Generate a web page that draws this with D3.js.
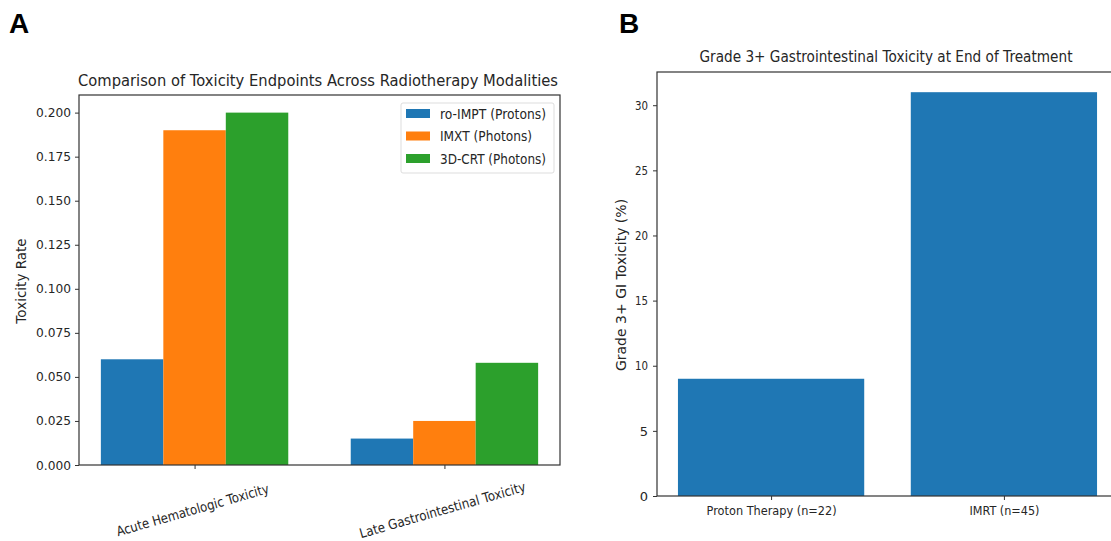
<!DOCTYPE html>
<html>
<head>
<meta charset="utf-8">
<script src="https://cdn.jsdelivr.net/npm/d3@7"></script>
<style>
  body { margin: 0; background: #fff; }
  svg text { font-family: "DejaVu Sans", sans-serif; fill: #262626; }
</style>
</head>
<body>
<div id="chart"></div>
<script>
// Panel A data
var categoriesA = ['Acute Hematologic Toxicity', 'Late Gastrointestinal Toxicity'];
var seriesNames = ['ro-IMPT (Protons)', 'IMXT (Photons)', '3D-CRT (Photons)'];
var protonValues = [0.06, 0.015];
var imxtValues = [0.19, 0.025];
var crtValues = [0.20, 0.058];
var ticksA = [0, 0.025, 0.05, 0.075, 0.1, 0.125, 0.15, 0.175, 0.2];

// Panel B data
var categoriesB = ['Proton Therapy (n=22)', 'IMRT (n=45)'];
var valuesB = [9, 31];
var ticksB = [0, 5, 10, 15, 20, 25, 30];

var colors = ['#1f77b4', '#ff7f0e', '#2ca02c'];

var svg = d3.select('#chart').append('svg')
  .attr('width', 1111)
  .attr('height', 541);

// squeeze a text to a given width (the picture is narrower than it is tall)
function squeeze(sel, w) {
  return sel.attr('textLength', w).attr('lengthAdjust', 'spacingAndGlyphs');
}

// ---------- Panel A ----------
var xA = d3.scaleLinear().domain([-0.4625, 1.4625]).range([79, 560]);
var yA = d3.scaleLinear().domain([0, 0.21]).range([465, 95]);
var barW = 0.25;

var seriesA = [protonValues, imxtValues, crtValues];
seriesA.forEach(function (vals, s) {
  svg.append('g').selectAll('rect')
    .data(vals)
    .enter()
    .append('rect')
    .attr('x', function (d, i) { return xA(i + (s - 1) * barW - barW / 2); })
    .attr('width', function () { return xA(barW) - xA(0); })
    .attr('y', function (d) { return yA(d); })
    .attr('height', function (d) { return yA(0) - yA(d); })
    .style('fill', colors[s]);
});

// frame
svg.append('rect')
  .attr('x', 79).attr('y', 95)
  .attr('width', 481).attr('height', 370)
  .style('fill', 'none').style('stroke', '#333').style('stroke-width', 1.2);

var axisLeftA = svg.append('g')
  .attr('transform', 'translate(79,0)')
  .call(d3.axisLeft(yA).tickValues(ticksA).tickFormat(d3.format('.3f')).tickSize(4).tickPadding(4));
axisLeftA.select('.domain').remove();
axisLeftA.selectAll('line').style('stroke', '#333');
axisLeftA.selectAll('text').style('font-size', '12.5px').style('fill', '#262626')
  .style('font-family', '"DejaVu Sans", sans-serif')
  .attr('textLength', 35).attr('lengthAdjust', 'spacingAndGlyphs');

var axisBottomA = svg.append('g')
  .attr('transform', 'translate(0,465)')
  .call(d3.axisBottom(xA).tickValues([0, 1]).tickFormat('').tickSize(4));
axisBottomA.select('.domain').remove();
axisBottomA.selectAll('line').style('stroke', '#333');

var xLabLen = [158, 172];
svg.append('g').selectAll('text')
  .data(categoriesA)
  .enter()
  .append('text')
  .attr('transform', function (d, i) { return 'translate(' + (xA(i) - 2) + ',510) rotate(-16)'; })
  .attr('text-anchor', 'middle')
  .attr('dy', '0.35em')
  .attr('textLength', function (d, i) { return xLabLen[i]; })
  .attr('lengthAdjust', 'spacingAndGlyphs')
  .style('font-size', '13.5px')
  .text(function (d) { return d; });

// title A
squeeze(svg.append('text'), 480)
  .attr('x', 318).attr('y', 86)
  .attr('text-anchor', 'middle')
  .style('font-size', '15.5px')
  .text('Comparison of Toxicity Endpoints Across Radiotherapy Modalities');

// y label A
svg.append('text')
  .attr('transform', 'translate(26,281) rotate(-90)')
  .attr('text-anchor', 'middle')
  .style('font-size', '13.5px')
  .text('Toxicity Rate');

// legend
var legendLen = [106, 92, 106];
var legend = svg.append('g').attr('transform', 'translate(401,103)');
legend.append('rect')
  .attr('width', 153).attr('height', 70).attr('rx', 2)
  .style('fill', '#fff').style('stroke', '#ddd');
seriesNames.forEach(function (name, s) {
  legend.append('rect')
    .attr('x', 5).attr('y', 6 + s * 22.5)
    .attr('width', 24).attr('height', 9)
    .style('fill', colors[s]);
  squeeze(legend.append('text'), legendLen[s])
    .attr('x', 39).attr('y', 11 + s * 22.5)
    .attr('dy', '0.35em')
    .style('font-size', '13.5px')
    .text(name);
});

// ---------- Panel B ----------
var xB = d3.scaleLinear().domain([-0.49, 1.49]).range([657, 1118]);
var yB = d3.scaleLinear().domain([0, 32.55]).range([496, 72]);

svg.append('g').selectAll('rect')
  .data(valuesB)
  .enter()
  .append('rect')
  .attr('x', function (d, i) { return xB(i - 0.4); })
  .attr('width', function () { return xB(0.8) - xB(0); })
  .attr('y', function (d) { return yB(d); })
  .attr('height', function (d) { return yB(0) - yB(d); })
  .style('fill', colors[0]);

svg.append('rect')
  .attr('x', 657).attr('y', 72)
  .attr('width', 461).attr('height', 424)
  .style('fill', 'none').style('stroke', '#333').style('stroke-width', 1.2);

var axisLeftB = svg.append('g')
  .attr('transform', 'translate(657,0)')
  .call(d3.axisLeft(yB).tickValues(ticksB).tickSize(4).tickPadding(5));
axisLeftB.select('.domain').remove();
axisLeftB.selectAll('line').style('stroke', '#333');
axisLeftB.selectAll('text').style('font-size', '13px').style('fill', '#262626')
  .style('font-family', '"DejaVu Sans", sans-serif');
axisLeftB.selectAll('text').filter(function (d) { return d >= 10; })
  .attr('textLength', 13).attr('lengthAdjust', 'spacingAndGlyphs');

var xLabLenB = [130, 70];
var axisBottomB = svg.append('g')
  .attr('transform', 'translate(0,496)')
  .call(d3.axisBottom(xB).tickValues([0, 1]).tickFormat(function (d) { return categoriesB[d]; })
    .tickSize(4).tickPadding(6));
axisBottomB.select('.domain').remove();
axisBottomB.selectAll('line').style('stroke', '#333');
axisBottomB.selectAll('text').style('font-size', '13px').style('fill', '#262626')
  .style('font-family', '"DejaVu Sans", sans-serif')
  .attr('textLength', function (d) { return xLabLenB[d]; })
  .attr('lengthAdjust', 'spacingAndGlyphs');

squeeze(svg.append('text'), 373)
  .attr('x', 886).attr('y', 62)
  .attr('text-anchor', 'middle')
  .style('font-size', '15px')
  .text('Grade 3+ Gastrointestinal Toxicity at End of Treatment');

svg.append('text')
  .attr('transform', 'translate(626,285) rotate(-90)')
  .attr('text-anchor', 'middle')
  .style('font-size', '14px')
  .text('Grade 3+ GI Toxicity (%)');

// panel letters
svg.append('text')
  .attr('x', 9).attr('y', 33)
  .style('font-family', '"Liberation Sans", Arial, sans-serif')
  .style('font-weight', 'bold')
  .style('font-size', '28px')
  .style('fill', '#000')
  .text('A');
svg.append('text')
  .attr('x', 619).attr('y', 33)
  .style('font-family', '"Liberation Sans", Arial, sans-serif')
  .style('font-weight', 'bold')
  .style('font-size', '28px')
  .style('fill', '#000')
  .text('B');
</script>
</body>
</html>
